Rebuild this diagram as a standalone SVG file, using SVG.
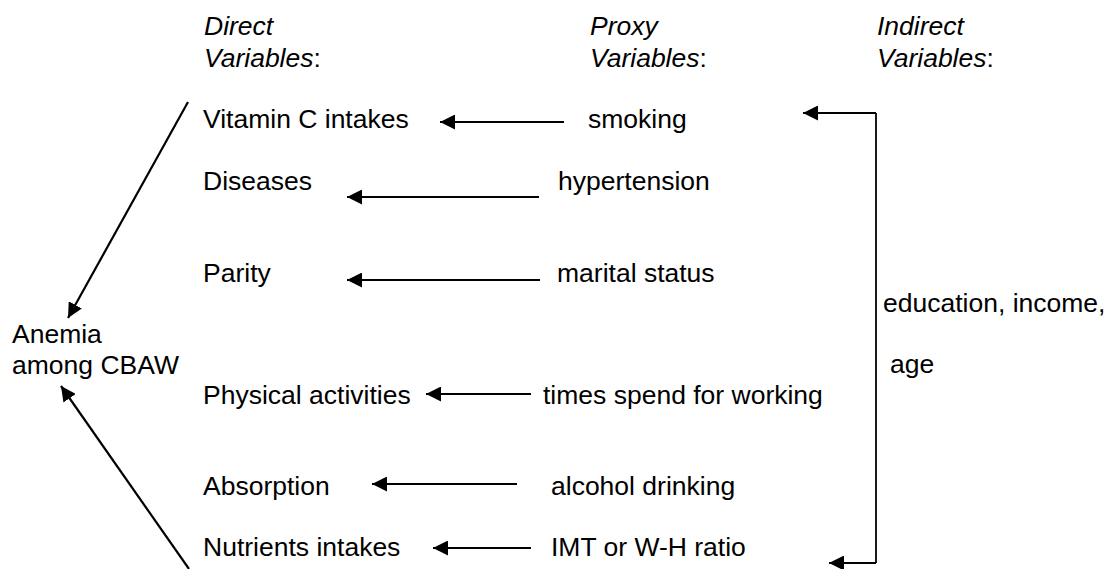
<svg xmlns="http://www.w3.org/2000/svg" width="1107" height="569" viewBox="0 0 1107 569">
<defs>
<style>
text{font-family:"Liberation Sans",Arial,sans-serif;font-size:26.5px;fill:#000}
.it{font-style:italic}
.c{stroke:#000;stroke-width:2.2;fill:none}
.b{stroke:#000;stroke-width:1.8;fill:none}
</style>
<marker id="ah" markerWidth="16" markerHeight="15" refX="15" refY="7.5" orient="auto" markerUnits="userSpaceOnUse">
<path d="M0,0 L15,7.5 L0,15 z" fill="#000"/>
</marker>
</defs>
<rect width="1107" height="569" fill="#fff"/>
<g id="headers">
<text x="204" y="35" class="it">Direct</text>
<text x="204" y="67"><tspan class="it">Variables</tspan>:</text>
<text x="590" y="35" class="it">Proxy</text>
<text x="590" y="67"><tspan class="it">Variables</tspan>:</text>
<text x="877" y="35" class="it">Indirect</text>
<text x="877" y="67"><tspan class="it">Variables</tspan>:</text>
</g>
<g id="anemia"><text x="12" y="343">Anemia</text><text x="12" y="373.5">among CBAW</text></g>
<g id="vitc"><text x="203" y="128">Vitamin C intakes</text></g>
<g id="diseases"><text x="203" y="190">Diseases</text></g>
<g id="parity"><text x="203" y="282">Parity</text></g>
<g id="physical"><text x="203" y="404">Physical activities</text></g>
<g id="absorption"><text x="203" y="495">Absorption</text></g>
<g id="nutrients"><text x="203" y="556">Nutrients intakes</text></g>
<g id="smoking"><text x="588" y="128">smoking</text></g>
<g id="hypertension"><text x="558" y="190">hypertension</text></g>
<g id="marital"><text x="557" y="282">marital status</text></g>
<g id="times"><text x="543" y="404">times spend for working</text></g>
<g id="alcohol"><text x="551" y="495">alcohol drinking</text></g>
<g id="imt"><text x="551" y="556">IMT or W-H ratio</text></g>
<g id="indirect"><text x="883" y="312">education, income,</text><text x="890" y="373">age</text></g>
<g id="connectors">
<line class="c" x1="188" y1="102" x2="68" y2="318" marker-end="url(#ah)"/>
<line class="c" x1="189" y1="569" x2="61" y2="386" marker-end="url(#ah)"/>
<line class="c" x1="564" y1="122" x2="440" y2="122" marker-end="url(#ah)"/>
<line class="c" x1="539" y1="197" x2="347" y2="197" marker-end="url(#ah)"/>
<line class="c" x1="540" y1="280" x2="347" y2="280" marker-end="url(#ah)"/>
<line class="c" x1="531" y1="394" x2="426" y2="394" marker-end="url(#ah)"/>
<line class="c" x1="517" y1="484" x2="372" y2="484" marker-end="url(#ah)"/>
<line class="c" x1="531" y1="548" x2="433" y2="548" marker-end="url(#ah)"/>
<polyline class="b" points="876,113 876,563"/>
<line class="b" x1="876" y1="113" x2="803" y2="113" marker-end="url(#ah)"/>
<line class="b" x1="876" y1="563" x2="829" y2="563" marker-end="url(#ah)"/>
</g>
</svg>
